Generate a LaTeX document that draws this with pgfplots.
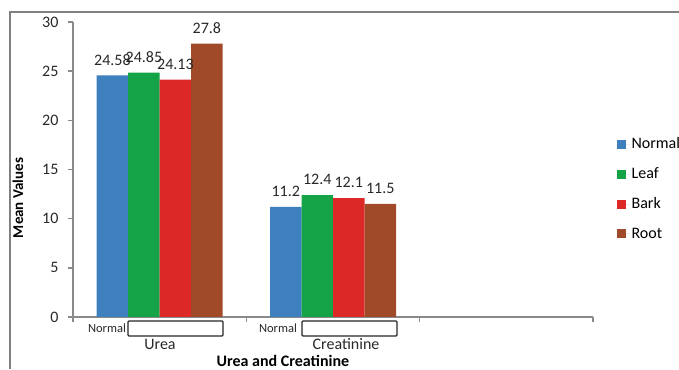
\documentclass[border=0pt]{standalone}
\usepackage{pgfplots}
\pgfplotsset{compat=1.18}
\usepackage{fontspec}
\setmainfont{Carlito}
\definecolor{cblue}{RGB}{62,128,190}
\definecolor{cgreen}{RGB}{20,163,70}
\definecolor{cred}{RGB}{221,40,40}
\definecolor{cbrown}{RGB}{160,74,42}
\definecolor{axgray}{RGB}{136,138,140}
\definecolor{framegray}{RGB}{128,128,128}
\definecolor{txt}{RGB}{40,40,40}
\newcommand\fs{\fontsize{16}{19}\selectfont}
\begin{document}
\begin{tikzpicture}[x=1pt,y=1pt]
\path[use as bounding box] (0,0) rectangle (679,369);
\begin{scope}
\clip (0,0) rectangle (679,369);
\draw[line width=2pt, framegray] (9.5,0) -- (9.5,357) -- (680,357);
\begin{axis}[
  at={(73pt,52pt)}, anchor=south west,
  scale only axis, width=520pt, height=295pt,
  xmin=-0.5, xmax=2.5, ymin=0, ymax=30,
  axis x line*=bottom, axis y line*=left,
  axis line style={axgray, line width=1.8pt},
  tick style={axgray, line width=1.5pt},
  tick align=outside, major tick length=5pt,
  xtick={-0.5,0.5,1.5,2.5}, xticklabels={},
  ytick={0,5,...,30},
  /pgf/number format/assume math mode=true,
  /pgf/number format/fixed, /pgf/number format/precision=2,
  yticklabel style={font=\fs, text=txt, xshift=-6pt},
  ybar=0pt, bar width=31.5pt,
  nodes near coords,
  every node near coord/.append style={font=\fs, text=txt, yshift=6.5pt},
  legend style={at={(1.045,0.615)}, anchor=north west, draw=none, fill=none,
    font=\fs, row sep=13.5pt, inner sep=0pt},
  legend cell align=left,
  legend image code/.code={\draw[#1, draw=none] (0pt,-4.5pt) rectangle (9pt,4.5pt); \path (0pt,0pt) -- (13pt,0pt);},
]
\addplot[fill=cblue, draw=none] coordinates {(0,24.58) (1,11.2)};
\addplot[fill=cgreen, draw=none] coordinates {(0,24.85) (1,12.4)};
\addplot[fill=cred, draw=none] coordinates {(0,24.13) (1,12.1)};
\addplot[fill=cbrown, draw=none] coordinates {(0,27.8) (1,11.5)};
\legend{Normal, Leaf, Bark, Root}
\end{axis}
% category labels
\node[font=\fontsize{12.5}{15}\selectfont, text=txt] at (107,41) {Normal};
\draw[line width=1.4pt, black!85, rounded corners=1pt] (128,48) rectangle (223,33);
\node[font=\fs, text=txt] at (160,25) {Urea};
\node[font=\fontsize{12.5}{15}\selectfont, text=txt] at (278,41) {Normal};
\draw[line width=1.4pt, black!85, rounded corners=1pt] (302,48) rectangle (397,33);
\node[font=\fs, text=txt] at (346,25) {Creatinine};
\node[font=\fs\bfseries, text=black, anchor=base, inner sep=0pt] at (283,3) {Urea and Creatinine};
\node[font=\fontsize{15}{18}\selectfont\bfseries, text=black, rotate=90] at (18,171) {Mean Values};
\end{scope}
\end{tikzpicture}
\end{document}
